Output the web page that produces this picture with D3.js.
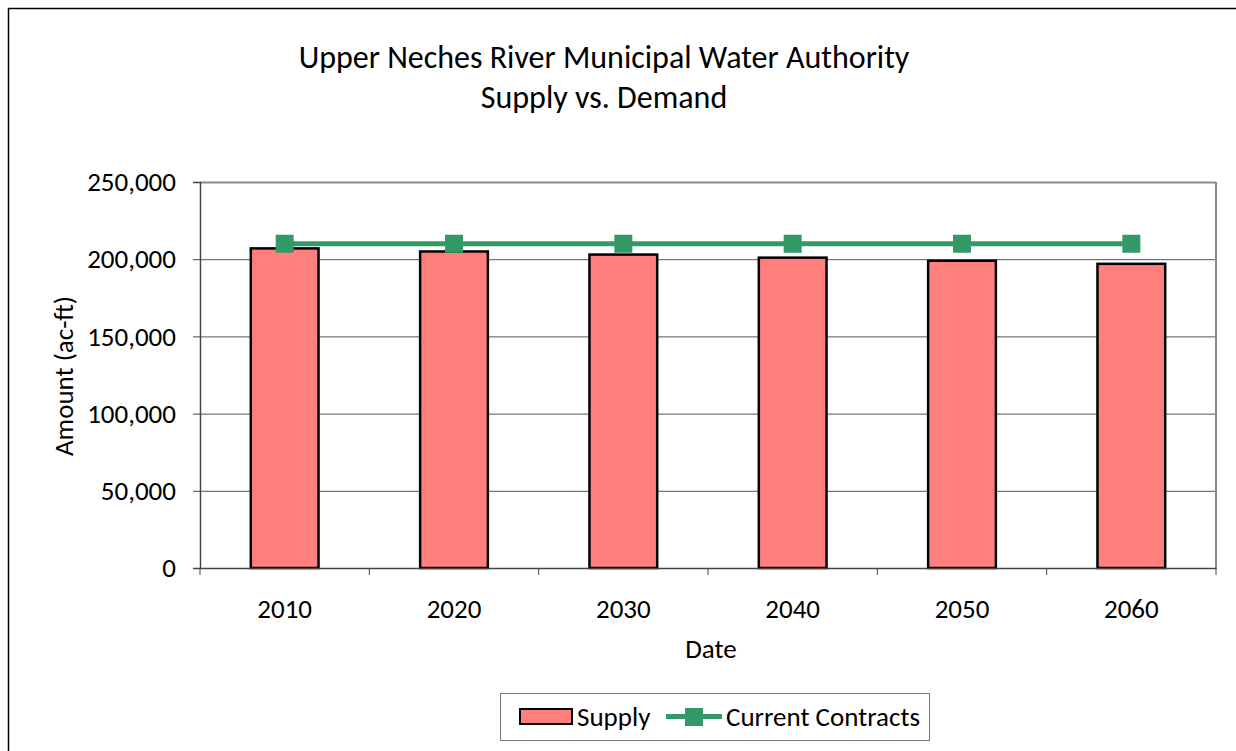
<!DOCTYPE html>
<html><head><meta charset="utf-8">
<script src="https://cdn.jsdelivr.net/npm/d3@7"></script>
<style>
html,body{margin:0;padding:0;background:#fff;}
svg text{font-family:Carlito,Calibri,Lato,sans-serif;fill:#000;}
</style></head>
<body><svg id="c" width="1236" height="751"></svg>
<script>
const categories = ["2010","2020","2030","2040","2050","2060"];
const supply = [207000,205000,203000,201000,199000,197000];
const contracts = [210000,210000,210000,210000,210000,210000];
const yTicks = [0,50000,100000,150000,200000,250000];
const titleLines = ["Upper Neches River Municipal Water Authority","Supply vs. Demand"];

const FS = 27;
const svg = d3.select("#c");
const W=1236,H=751;
svg.append("rect").attr("x",8.5).attr("y",8.5).attr("width",W).attr("height",H).attr("fill","#fff").attr("stroke","#000").attr("stroke-width",1.5);

const L=200,R=1216,T=182,B=568;
const x = d3.scaleBand().domain(categories).range([L,R]).paddingInner(0.6).paddingOuter(0.3);
const xb = d3.scaleBand().domain(categories).range([L,R]);
const y = d3.scaleLinear().domain([0,250000]).range([B,T]);

// gridlines
svg.append("g").selectAll("line").data(yTicks.filter(d=>d>0)).join("line")
  .attr("x1",L).attr("x2",R).attr("y1",d=>y(d)+0.5).attr("y2",d=>y(d)+0.5)
  .attr("stroke",d=>d===250000?"#888":"#555").attr("stroke-width",d=>d===250000?2:1);
// right border
svg.append("line").attr("x1",R).attr("x2",R).attr("y1",T).attr("y2",B).attr("stroke","#888").attr("stroke-width",2);

// bars
svg.append("g").selectAll("rect").data(supply).join("rect")
  .attr("x",(d,i)=>x(categories[i])).attr("width",x.bandwidth())
  .attr("y",d=>y(d)).attr("height",d=>B-y(d))
  .attr("fill","#ff7f7f").attr("stroke","#000").attr("stroke-width",2.5);

// y axis
const ya = svg.append("g").attr("transform",`translate(${L},0)`)
  .call(d3.axisLeft(y).tickValues(yTicks).tickSize(7).tickPadding(17).tickFormat(d3.format(",")));
ya.select(".domain").attr("stroke","#444").attr("stroke-width",1.5);
ya.selectAll(".tick line").attr("stroke","#444");
ya.selectAll("text").style("font-size",FS+"px").style("font-family","Carlito,Calibri,Lato,sans-serif");

// x axis
const xa = svg.append("g").attr("transform",`translate(0,${B})`)
  .call(d3.axisBottom(xb).tickSize(0));
xa.select(".domain").attr("stroke","#444").attr("stroke-width",1.5);
xa.selectAll("text").attr("y",50).attr("dy",null).style("font-size",FS+"px").style("font-family","Carlito,Calibri,Lato,sans-serif");
svg.append("g").selectAll("line").data(d3.range(categories.length+1)).join("line")
  .attr("x1",i=>L+i*xb.step()).attr("x2",i=>L+i*xb.step()).attr("y1",B).attr("y2",B+7)
  .attr("stroke","#444");

// line
const lineGen = d3.line().x((d,i)=>xb(categories[i])+xb.bandwidth()/2).y(d=>y(d));
svg.append("path").datum(contracts).attr("d",lineGen).attr("fill","none").attr("stroke","#339966").attr("stroke-width",5);
svg.append("g").selectAll("rect").data(contracts).join("rect")
  .attr("x",(d,i)=>xb(categories[i])+xb.bandwidth()/2-9).attr("y",d=>y(d)-9)
  .attr("width",18).attr("height",18).attr("fill","#339966");

// titles
svg.append("g").selectAll("text").data(titleLines).join("text")
  .attr("x",604).attr("y",(d,i)=>68+i*40).attr("text-anchor","middle").style("font-size","32px").text(d=>d);
svg.append("text").attr("x",711).attr("y",658).attr("text-anchor","middle").style("font-size",FS+"px").text("Date");
svg.append("text").attr("transform","translate(73,376) rotate(-90)").attr("text-anchor","middle").style("font-size",FS+"px").text("Amount (ac-ft)");

// legend
const lg = svg.append("g");
lg.append("rect").attr("x",500.5).attr("y",693.5).attr("width",429).attr("height",47).attr("fill","#fff").attr("stroke","#777").attr("stroke-width",1);
lg.append("rect").attr("x",520).attr("y",709).attr("width",52).attr("height",15).attr("fill","#ff7f7f").attr("stroke","#000").attr("stroke-width",2);
lg.append("text").attr("x",577).attr("y",726).style("font-size",FS+"px").text("Supply");
lg.append("line").attr("x1",666).attr("x2",722).attr("y1",716.5).attr("y2",716.5).attr("stroke","#339966").attr("stroke-width",5);
lg.append("rect").attr("x",685).attr("y",708).attr("width",18).attr("height",18).attr("fill","#339966");
lg.append("text").attr("x",726).attr("y",726).style("font-size",FS+"px").text("Current Contracts");
</script></body></html>
